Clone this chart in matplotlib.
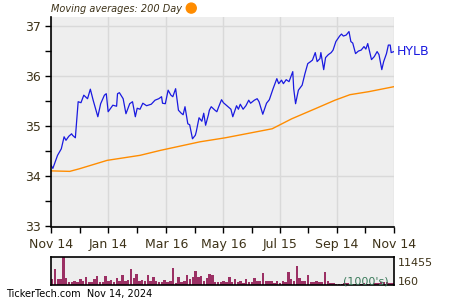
import matplotlib
matplotlib.use('Agg')
import numpy as np
import pandas as pd
import matplotlib.pyplot as plt
from matplotlib.patches import Ellipse

# HYLB 收盘价
price_dates = ['2023-11-14', '2023-11-16', '2023-11-21', '2023-11-25', '2023-11-28', '2023-11-30',
               '2023-12-03', '2023-12-06', '2023-12-07', '2023-12-10', '2023-12-13', '2023-12-16',
               '2023-12-19', '2023-12-23', '2023-12-26', '2023-12-29', '2023-12-31', '2024-01-03',
               '2024-01-06', '2024-01-10', '2024-01-12', '2024-01-14', '2024-01-19', '2024-01-23',
               '2024-01-24', '2024-01-26', '2024-01-30', '2024-02-02', '2024-02-06', '2024-02-09',
               '2024-02-12', '2024-02-14', '2024-02-17', '2024-02-20', '2024-02-24', '2024-02-29',
               '2024-03-04', '2024-03-08', '2024-03-11', '2024-03-12', '2024-03-15', '2024-03-18',
               '2024-03-21', '2024-03-23', '2024-03-26', '2024-03-29', '2024-04-01', '2024-04-03',
               '2024-04-05', '2024-04-08', '2024-04-10', '2024-04-13', '2024-04-16', '2024-04-17',
               '2024-04-20', '2024-04-23', '2024-04-25', '2024-04-27', '2024-04-30', '2024-05-01',
               '2024-05-03', '2024-05-07', '2024-05-09', '2024-05-11', '2024-05-14', '2024-05-16',
               '2024-05-21', '2024-05-24', '2024-05-26', '2024-05-30', '2024-06-01', '2024-06-03',
               '2024-06-06', '2024-06-09', '2024-06-12', '2024-06-14', '2024-06-18', '2024-06-21',
               '2024-06-23', '2024-06-27', '2024-07-01', '2024-07-04', '2024-07-08', '2024-07-12',
               '2024-07-14', '2024-07-17', '2024-07-19', '2024-07-22', '2024-07-25', '2024-07-29',
               '2024-07-30', '2024-08-01', '2024-08-04', '2024-08-08', '2024-08-11', '2024-08-14',
               '2024-08-17', '2024-08-19', '2024-08-22', '2024-08-24', '2024-08-27', '2024-08-28',
               '2024-08-31', '2024-09-02', '2024-09-05', '2024-09-08', '2024-09-10', '2024-09-13',
               '2024-09-17', '2024-09-19', '2024-09-21', '2024-09-24', '2024-09-27', '2024-09-29',
               '2024-10-01', '2024-10-04', '2024-10-07', '2024-10-10', '2024-10-13', '2024-10-15',
               '2024-10-17', '2024-10-19', '2024-10-21', '2024-10-24', '2024-10-27', '2024-10-29',
               '2024-11-01', '2024-11-03', '2024-11-06', '2024-11-08', '2024-11-10', '2024-11-11',
               '2024-11-14']
prices = [34.22, 34.16, 34.42, 34.55, 34.79, 34.72,
          34.80, 34.85, 34.82, 34.77, 35.49, 35.47,
          35.62, 35.55, 35.74, 35.52, 35.39, 35.19,
          35.45, 35.62, 35.65, 35.29, 35.42, 35.40,
          35.65, 35.67, 35.55, 35.25, 35.45, 35.49,
          35.19, 35.36, 35.34, 35.46, 35.41, 35.44,
          35.52, 35.55, 35.59, 35.46, 35.45, 35.72,
          35.62, 35.59, 35.75, 35.32, 35.26, 35.23,
          35.39, 35.05, 35.03, 34.75, 34.82, 34.89,
          35.17, 35.10, 35.26, 35.02, 35.23, 35.32,
          35.39, 35.32, 35.29, 35.39, 35.53, 35.47,
          35.39, 35.34, 35.19, 35.41, 35.34, 35.44,
          35.34, 35.41, 35.52, 35.46, 35.52, 35.55,
          35.49, 35.24, 35.46, 35.53, 35.75, 35.95,
          35.85, 35.92, 35.85, 35.93, 35.89, 36.09,
          35.75, 35.45, 35.72, 35.82, 36.05, 36.25,
          36.29, 36.32, 36.47, 36.29, 36.35, 36.47,
          36.13, 36.37, 36.43, 36.47, 36.52, 36.69,
          36.80, 36.84, 36.80, 36.82, 36.89, 36.69,
          36.66, 36.45, 36.50, 36.52, 36.59, 36.54,
          36.65, 36.49, 36.33, 36.39, 36.49, 36.43,
          36.13, 36.29, 36.45, 36.62, 36.62, 36.47,
          36.49]

# 200日均线
ma_dates = ['2023-11-14', '2023-12-04', '2023-12-14', '2024-01-13', '2024-02-17', '2024-03-10',
            '2024-04-21', '2024-05-18', '2024-07-07', '2024-07-28', '2024-08-22', '2024-09-12',
            '2024-09-28', '2024-10-18', '2024-11-14']
ma200 = [34.11, 34.10, 34.15, 34.32, 34.42, 34.52,
         34.69, 34.77, 34.95, 35.15, 35.35, 35.52,
         35.63, 35.69, 35.79]

# 成交量 (千股), 每3天一根
vol_start = '2023-11-14'
volume = [2400, 6650, 2400, 2500, 11455, 2800, 1450, 1450, 1700, 1500,
          2400, 1700, 3150, 1400, 1400, 2700, 3670, 1400, 1500, 3670,
          1700, 2300, 1400, 2750, 1800, 4060, 1800, 2200, 6650, 3000,
          4450, 1800, 2000, 1800, 4060, 1800, 3150, 1800, 1400, 1400,
          2000, 1400, 1700, 7050, 1100, 3150, 1400, 1600, 4060, 2400,
          3150, 5630, 3400, 3600, 1900, 2800, 4450, 4060, 1400, 1400,
          1400, 1900, 1400, 3150, 1400, 2400, 1400, 1900, 1100, 2400,
          1400, 1400, 2800, 1900, 1600, 4990, 1900, 1600, 1600, 1100,
          1600, 1100, 1700, 1500, 5400, 2400, 1700, 7700, 3000, 1700,
          1700, 4060, 1400, 1400, 1700, 1400, 1400, 5220, 1700, 1000,
          1000, 600, 600, 600, 1000, 900, 600, 600, 600, 700,
          600, 800, 600, 700, 600, 900, 800, 1200, 1400, 1300,
          1100, 900]

xtick_dates = ['2023-11-14', '2024-01-14', '2024-03-16', '2024-05-16',
               '2024-07-15', '2024-09-14', '2024-11-14']
xtick_labels = ['Nov 14', 'Jan 14', 'Mar 16', 'May 16', 'Jul 15', 'Sep 14', 'Nov 14']

txt = '#3d3218'
bg = '#eeeeee'
gridc = '#d9d9d9'

fig = plt.figure(figsize=(4.5, 3), dpi=100)
ax = fig.add_axes([0.1133, 0.245, 0.7622, 0.6983])
axv = fig.add_axes([0.1133, 0.05, 0.7622, 0.095])

pd_dates = pd.to_datetime(price_dates)
ma_d = pd.to_datetime(ma_dates)
xt = pd.to_datetime(xtick_dates)

ax.set_facecolor(bg)
ax.plot(ma_d, ma200, color='#ff8c00', lw=1.0)
ax.plot(pd_dates, prices, color='#1a1ae0', lw=0.9)
ax.set_xlim(xt[0], xt[-1])
ax.set_ylim(33, 37.18)
ax.set_yticks([33, 34, 35, 36, 37])
ax.set_yticks([33.5, 34.5, 35.5, 36.5], minor=True)
ax.set_xticks(xt)
ax.set_xticks(xt[:-1] + (xt[1:] - xt[:-1]) / 2, minor=True)
ax.set_xticklabels(xtick_labels)
ax.grid(True, color=gridc, lw=1.0)
ax.set_axisbelow(True)
for s in ['top', 'right']:
    ax.spines[s].set_visible(False)
ax.spines['left'].set_linewidth(1.2)
ax.spines['bottom'].set_linewidth(1.2)
ax.tick_params(which='both', direction='out', length=4, width=1, colors='black',
               labelcolor=txt, labelsize=9)
ax.tick_params(axis='x', pad=4.5)
ax.text(1.008, (prices[-1] - 33) / 4.18, 'HYLB', transform=ax.transAxes,
        color='#1a1ae0', fontsize=9, va='center', ha='left')

# 标题
fig.text(0.113, 0.971, 'Moving averages: 200 Day', style='italic', fontsize=7,
         color=txt, va='center', ha='left')
fig.patches.append(Ellipse((0.425, 0.973), 10 / 450, 10 / 300, transform=fig.transFigure,
                           color='#ff8c00', figure=fig))

# 成交量
vd = pd.date_range(vol_start, periods=len(volume), freq='3D')
axv.set_facecolor(bg)
axv.bar(vd, volume, width=2.6, color='#9b3064', align='edge')
axv.set_xlim(xt[0], xt[-1])
axv.set_ylim(160, 11455)
axv.set_xticks([])
axv.set_yticks([])
for s in axv.spines.values():
    s.set_linewidth(1.2)
axv.text(1.01, 0.77, '11455', transform=axv.transAxes, fontsize=8, color=txt,
         va='center', ha='left')
axv.text(1.01, 0.12, '160', transform=axv.transAxes, fontsize=8, color=txt,
         va='center', ha='left')
axv.text(0.985, 0.12, "(1000's)", transform=axv.transAxes, fontsize=8,
         color='#3a7a5a', va='center', ha='right')

fig.text(0.013, 0.02, 'TickerTech.com  Nov 14, 2024', fontsize=7, color='black',
         va='center', ha='left')

fig.savefig('out.png', dpi=100)
